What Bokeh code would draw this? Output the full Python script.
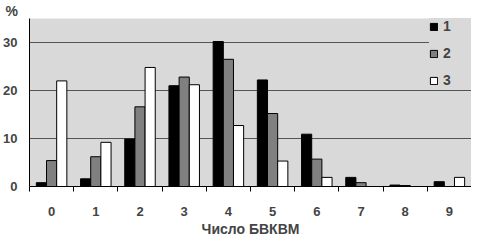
from bokeh.plotting import figure
from bokeh.models import FixedTicker, Range1d, Legend, LegendItem, ColumnDataSource, Title
from bokeh.embed import file_html
from bokeh.resources import INLINE

categories = [0, 1, 2, 3, 4, 5, 6, 7, 8, 9]
series1 = [0.8, 1.6, 9.9, 21.0, 30.2, 22.2, 10.9, 1.9, 0.3, 1.0]
series2 = [5.4, 6.2, 16.6, 22.8, 26.5, 15.2, 5.7, 0.8, 0.2, 0.0]
series3 = [22.0, 9.2, 24.8, 21.2, 12.7, 5.3, 1.9, 0.0, 0.0, 1.9]
series_names = ["1", "2", "3"]
y_ticks = [0, 10, 20, 30]
x_title = "Число БВКВМ"

FONT = "Liberation Sans"

p = figure(width=471, height=236, output_backend="svg", toolbar_location=None,
           x_range=Range1d(-0.5, 9.5), y_range=Range1d(0, 35),
           min_border_left=25, min_border_right=0, min_border_top=0, min_border_bottom=0)

p.background_fill_color = "#d9d9d9"
p.border_fill_color = "white"
p.outline_line_color = None

p.title.text = "%"
p.title.align = "left"
p.title.offset = -24
p.title.text_font = FONT
p.title.text_font_style = "bold"
p.title.text_font_size = "14px"
p.title.standoff = 0

off = 0.23
w = 0.23
fills = ["black", "#808080", "white"]
renderers = []
for i, (vals, col) in enumerate(zip([series1, series2, series3], fills)):
    src = ColumnDataSource(dict(x=[c + (i - 1) * off for c in categories], top=vals))
    r = p.vbar(x="x", top="top", bottom=0, width=w, source=src,
               fill_color=col, line_color="black", line_width=1)
    renderers.append(r)

p.xgrid.grid_line_color = None
p.ygrid.ticker = FixedTicker(ticks=y_ticks)
p.ygrid.grid_line_color = "#555555"
p.ygrid.grid_line_width = 1

p.xaxis.ticker = FixedTicker(ticks=categories, minor_ticks=[c - 0.5 for c in categories] + [9.5])
p.xaxis.major_tick_out = 0
p.xaxis.major_tick_in = 0
p.xaxis.minor_tick_out = 5
p.xaxis.minor_tick_in = 0
p.xaxis.minor_tick_line_color = "black"
p.xaxis.axis_line_color = "black"
p.xaxis.major_label_standoff = 15
p.xaxis.major_label_text_font = FONT
p.xaxis.major_label_text_font_style = "bold"
p.xaxis.major_label_text_font_size = "13px"

p.add_layout(Title(text=x_title, align="center", text_font=FONT, text_font_style="bold",
                   text_font_size="14px", standoff=0, offset=0), "below")

p.yaxis.ticker = FixedTicker(ticks=y_ticks)
p.yaxis.major_tick_out = 0
p.yaxis.major_tick_in = 0
p.yaxis.minor_tick_line_color = None
p.yaxis.axis_line_color = "black"
p.yaxis.major_label_standoff = 12
p.yaxis.major_label_text_font = FONT
p.yaxis.major_label_text_font_style = "bold"
p.yaxis.major_label_text_font_size = "13px"

legend = Legend(items=[LegendItem(label=n, renderers=[r]) for n, r in zip(series_names, renderers)],
                location="top_right")
legend.background_fill_color = "#d9d9d9"
legend.background_fill_alpha = 1
legend.border_line_color = None
legend.label_text_font = FONT
legend.label_text_font_style = "bold"
legend.label_text_font_size = "14px"
legend.glyph_width = 9
legend.glyph_height = 9
legend.spacing = 11
legend.label_standoff = 5
legend.padding = 2
legend.margin = 0
legend.label_width = 28
p.add_layout(legend)

open("out.html", "w").write(file_html(p, INLINE))
